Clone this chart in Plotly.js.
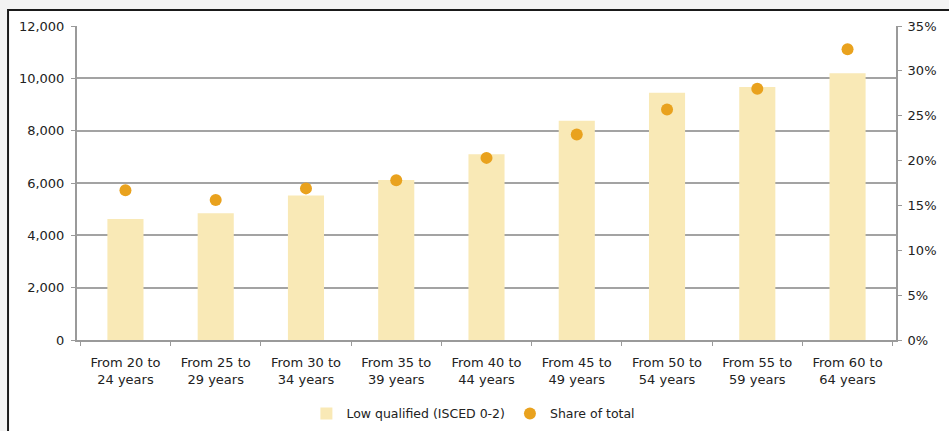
<!DOCTYPE html>
<html>
<head>
<meta charset="utf-8">
<script src="https://cdn.plot.ly/plotly-3.0.1.min.js"></script>
<style>html,body{margin:0;padding:0;background:#fff;}#chart{width:949px;height:431px;}</style>
</head>
<body>
<div id="chart"></div>
<script>
const categories = ["From 20 to<br>24 years","From 25 to<br>29 years","From 30 to<br>34 years","From 35 to<br>39 years","From 40 to<br>44 years","From 45 to<br>49 years","From 50 to<br>54 years","From 55 to<br>59 years","From 60 to<br>64 years"];
const lowQualified = [4620, 4840, 5520, 6110, 7100, 8380, 9450, 9670, 10190];
const shareOfTotal = [0.167, 0.156, 0.169, 0.178, 0.203, 0.229, 0.257, 0.280, 0.324];
const leftTicks = [0, 2000, 4000, 6000, 8000, 10000, 12000];
const rightTicks = [0, 0.05, 0.10, 0.15, 0.20, 0.25, 0.30, 0.35];

const font = {family: "DejaVu Sans, Verdana, sans-serif", size: 13, color: "#222222"};
const legendFont = {family: "DejaVu Sans, Verdana, sans-serif", size: 12.5, color: "#222222"};

const traces = [
  {
    type: "bar", name: "Low qualified (ISCED 0-2)",
    x: categories, y: lowQualified,
    marker: {color: "#F9E9B6"},
    yaxis: "y"
  },
  {
    type: "scatter", mode: "markers", name: "Share of total",
    x: categories, y: shareOfTotal,
    marker: {color: "#E9A21E", size: 12},
    yaxis: "y2"
  }
];

const layout = {
  width: 949, height: 431,
  margin: {l: 77, r: 53, t: 26, b: 91},
  paper_bgcolor: "#f3f3f3",
  plot_bgcolor: "rgba(0,0,0,0)",
  font: font,
  bargap: 0.6,
  showlegend: true,
  legend: {orientation: "h", x: 0.484, xanchor: "center", yref: "container", y: 0.04, yanchor: "middle", font: legendFont,
           bgcolor: "rgba(0,0,0,0)", itemwidth: 30, traceorder: "normal"},
  xaxis: {
    type: "category", showline: true, linecolor: "#9a9a9a", linewidth: 2,
    ticks: "outside", tickson: "boundaries", ticklen: 4, tickcolor: "#9a9a9a",
    ticklabelstandoff: 9,
    showgrid: false, tickfont: font, automargin: false
  },
  yaxis: {
    range: [0, 12000], tickvals: leftTicks, tickformat: ",d",
    showline: true, linecolor: "#9a9a9a", linewidth: 2,
    ticks: "outside", ticklen: 4, tickcolor: "#9a9a9a", ticklabelstandoff: 4,
    showgrid: true, gridcolor: "#a3a3a3", gridwidth: 2,
    zeroline: false, tickfont: font, automargin: false
  },
  yaxis2: {
    overlaying: "y", side: "right", range: [0, 0.35], tickvals: rightTicks, tickformat: ".0%",
    showline: true, linecolor: "#9a9a9a", linewidth: 2,
    ticks: "outside", ticklen: 4, tickcolor: "#9a9a9a", ticklabelstandoff: 3,
    showgrid: false, zeroline: false, tickfont: font, automargin: false
  },
  shapes: [
    {type: "rect", xref: "paper", yref: "paper", x0: -0.0842, x1: 1.08, y0: -0.35, y1: 1.051,
     line: {color: "#1a1a1a", width: 2}, fillcolor: "#ffffff", layer: "below"}
  ]
};

Plotly.newPlot("chart", traces, layout, {displayModeBar: false, staticPlot: true});
</script>
</body>
</html>
